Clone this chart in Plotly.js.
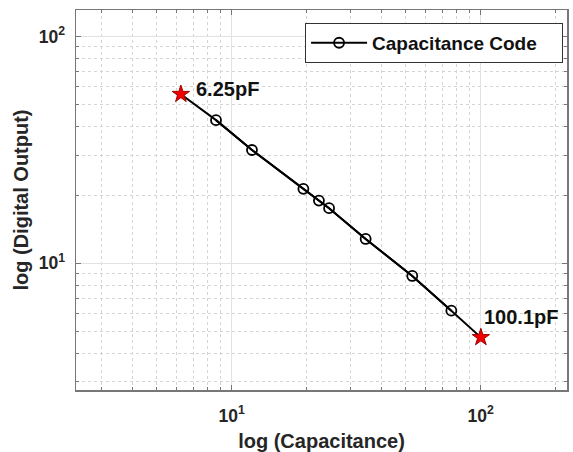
<!DOCTYPE html>
<html>
<head>
<meta charset="utf-8">
<script src="https://cdn.plot.ly/plotly-3.0.1.min.js"></script>
<style>html,body{margin:0;padding:0;background:#fff;}#chart{width:573px;height:452px;}</style>
</head>
<body>
<div id="chart"></div>
<script>
// Data
const capacitance = [6.25, 8.65, 12.06, 19.4, 22.4, 24.6, 34.5, 53.1, 76.2, 100.1];
const digitalOutput = [55.7, 42.8, 31.6, 21.3, 18.9, 17.5, 12.8, 8.79, 6.18, 4.71];
const endLabels = ['6.25pF', '100.1pF'];
const seriesName = 'Capacitance Code';
const majorTicks = [10, 100];
const majorTickText = ['10<sup>1</sup>', '10<sup>2</sup>'];
const minorTicksX = [3, 4, 5, 6, 7, 8, 9, 20, 30, 40, 50, 60, 70, 80, 90, 200];
const minorTicksY = [3, 4, 5, 6, 7, 8, 9, 20, 30, 40, 50, 60, 70, 80, 90];

const FONT = 'Liberation Sans, Arial, sans-serif';
const TXT = '#262626';
const n = capacitance.length;
const midX = capacitance.slice(1, n - 1);
const midY = digitalOutput.slice(1, n - 1);
const endX = [capacitance[0], capacitance[n - 1]];
const endY = [digitalOutput[0], digitalOutput[n - 1]];

const traces = [
  {x: capacitance, y: digitalOutput, mode: 'lines', type: 'scatter', showlegend: false,
   line: {color: '#000', width: 2}, hoverinfo: 'skip'},
  {x: midX, y: midY, mode: 'lines+markers', type: 'scatter', name: seriesName,
   line: {color: '#000', width: 2},
   marker: {symbol: 'circle-open', size: 10, color: '#000', line: {width: 1.8, color: '#000'}}},
  {x: endX, y: endY, mode: 'markers', type: 'scatter', showlegend: false,
   marker: {symbol: 'star', size: 13, color: '#f20000', line: {width: 1, color: '#a00000'}}}
];

function axisCommon(minorVals) {
  return {
    type: 'log', tickmode: 'array', tickvals: majorTicks, ticktext: majorTickText,
    ticks: 'inside', ticklen: 5, tickwidth: 1, tickcolor: '#777',
    showline: true, linecolor: '#777', linewidth: 1.5, mirror: 'ticks',
    showgrid: true, gridcolor: '#e2e2e2', gridwidth: 1, zeroline: false,
    tickfont: {family: FONT, size: 17.5, color: TXT, weight: 'bold'},
    minor: {tickmode: 'array', tickvals: minorVals, ticks: 'inside', ticklen: 3,
            tickcolor: '#777', showgrid: true, gridcolor: '#d4d4d4', griddash: 'dot', gridwidth: 1}
  };
}

const xaxis = Object.assign(axisCommon(minorTicksX), {
  range: [Math.log10(2.37), Math.log10(222)],
  ticklabelstandoff: 9,
  title: {text: 'log (Capacitance)', font: {family: FONT, size: 20, color: TXT, weight: 'bold'}, standoff: 10}
});
const yaxis = Object.assign(axisCommon(minorTicksY), {
  range: [Math.log10(2.76), Math.log10(131)],
  ticklabelstandoff: 6,
  title: {text: 'log (Digital Output)', font: {family: FONT, size: 20, color: TXT, weight: 'bold'}, standoff: 4}
});

const layout = {
  width: 573, height: 452,
  margin: {l: 76, r: 6, t: 10, b: 62},
  paper_bgcolor: '#fff', plot_bgcolor: '#fff',
  showlegend: true,
  legend: {x: 0.992, y: 0.966, xanchor: 'right', yanchor: 'top', itemwidth: 56,
           orientation: 'h', entrywidth: 185, entrywidthmode: 'pixels',
           bgcolor: '#fff', bordercolor: '#333', borderwidth: 1,
           font: {family: FONT, size: 19, color: '#111', weight: 'bold'}},
  xaxis: xaxis, yaxis: yaxis,
  annotations: [
    {x: Math.log10(endX[0]), y: Math.log10(endY[0]), xref: 'x', yref: 'y', text: endLabels[0],
     showarrow: false, xanchor: 'left', yanchor: 'middle', xshift: 13, yshift: 5,
     font: {family: FONT, size: 20, color: '#111', weight: 'bold'}},
    {x: Math.log10(endX[1]), y: Math.log10(endY[1]), xref: 'x', yref: 'y', text: endLabels[1],
     showarrow: false, xanchor: 'left', yanchor: 'middle', xshift: 1, yshift: 20,
     font: {family: FONT, size: 20, color: '#111', weight: 'bold'}}
  ]
};

Plotly.newPlot('chart', traces, layout, {displayModeBar: false, staticPlot: true});
</script>
</body>
</html>
